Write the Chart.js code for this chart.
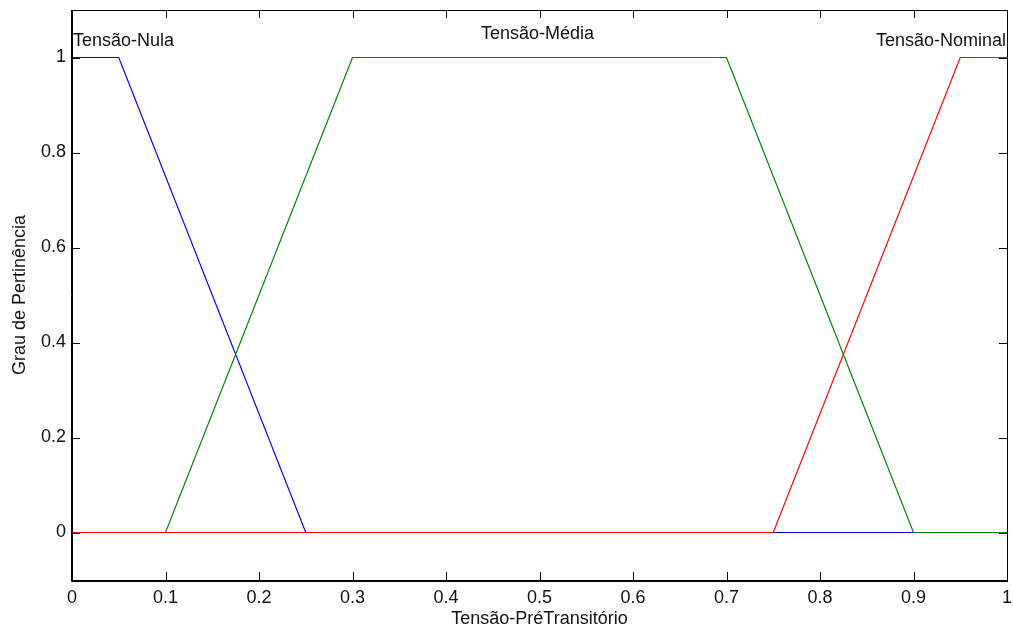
<!DOCTYPE html>
<html>
<head>
<meta charset="utf-8">
<script src="https://cdn.jsdelivr.net/npm/chart.js@4.4.1/dist/chart.umd.min.js"></script>
<style>
  html, body { margin: 0; padding: 0; background: #fff; }
  #wrap { width: 1013px; height: 630px; }
</style>
</head>
<body>
<div id="wrap"><canvas id="mfChart" width="1013" height="630"></canvas></div>
<script>
// funções de pertinência (pontos de quebra)
const xNula = [0, 0.05, 0.25, 1];
const yNula = [1, 1, 0, 0];
const xMedia = [0, 0.1, 0.3, 0.7, 0.9, 1];
const yMedia = [0, 0, 1, 1, 0, 0];
const xNominal = [0, 0.75, 0.95, 1];
const yNominal = [0, 0, 1, 1];

const mfNames = ['Tensão-Nula', 'Tensão-Média', 'Tensão-Nominal'];
const mfLabelX = [0, 0.5, 1];

const xTicks = [0, 0.1, 0.2, 0.3, 0.4, 0.5, 0.6, 0.7, 0.8, 0.9, 1];
const yTicks = [0, 0.2, 0.4, 0.6, 0.8, 1];

const font = 'Liberation Sans, Arial, Helvetica, sans-serif';
const fontSize = 18;
const textColor = '#111';

function pontos(xs, ys) {
  return xs.map((x, i) => ({ x: x, y: ys[i] }));
}

// moldura com marcas para dentro (estilo matlab) + nomes das funções
const molduraPlugin = {
  id: 'moldura',
  afterDraw(chart) {
    const ctx = chart.ctx;
    const a = chart.chartArea;
    const sx = chart.scales.x;
    const sy = chart.scales.y;
    const tick = 8;

    ctx.save();
    ctx.strokeStyle = '#000';
    ctx.lineWidth = 1;
    ctx.beginPath();
    xTicks.forEach(v => {
      const px = Math.round(sx.getPixelForValue(v)) + 0.5;
      ctx.moveTo(px, a.bottom); ctx.lineTo(px, a.bottom - tick);
      ctx.moveTo(px, a.top); ctx.lineTo(px, a.top + tick);
    });
    yTicks.forEach(v => {
      const py = Math.round(sy.getPixelForValue(v)) + 0.5;
      ctx.moveTo(a.left, py); ctx.lineTo(a.left + tick, py);
      ctx.moveTo(a.right, py); ctx.lineTo(a.right - tick, py);
    });
    ctx.stroke();

    ctx.strokeRect(Math.round(a.left) + 0.5, Math.round(a.top) + 0.5,
      Math.round(a.right - a.left), Math.round(a.bottom - a.top));
    // eixos esquerdo e inferior um pouco mais grossos
    ctx.beginPath();
    ctx.moveTo(Math.round(a.left) - 0.5, Math.round(a.top));
    ctx.lineTo(Math.round(a.left) - 0.5, Math.round(a.bottom) + 1.5);
    ctx.lineTo(Math.round(a.right) + 1, Math.round(a.bottom) + 1.5);
    ctx.stroke();

    ctx.fillStyle = textColor;
    ctx.font = fontSize + 'px ' + font;
    ctx.textBaseline = 'alphabetic';
    const topo = sy.getPixelForValue(1);
    mfNames.forEach((nome, i) => {
      const px = sx.getPixelForValue(mfLabelX[i]);
      if (i === 0) {
        ctx.textAlign = 'left';
        ctx.fillText(nome, px + 1, topo - 12);
      } else if (i === mfNames.length - 1) {
        ctx.textAlign = 'right';
        ctx.fillText(nome, px - 1, topo - 12);
      } else {
        ctx.textAlign = 'center';
        ctx.fillText(nome, px - 2, topo - 19);
      }
    });
    ctx.restore();
  }
};

new Chart(document.getElementById('mfChart'), {
  type: 'line',
  data: {
    datasets: [
      { label: mfNames[0], data: pontos(xNula, yNula), borderColor: '#0000ff', order: 3 },
      { label: mfNames[1], data: pontos(xMedia, yMedia), borderColor: '#008000', order: 2 },
      { label: mfNames[2], data: pontos(xNominal, yNominal), borderColor: '#ff0000', order: 1 }
    ]
  },
  options: {
    responsive: false,
    animation: false,
    layout: { padding: { top: 10, right: 6, left: 0, bottom: 0 } },
    elements: {
      line: { borderWidth: 1.2, tension: 0 },
      point: { radius: 0 }
    },
    plugins: {
      legend: { display: false },
      tooltip: { enabled: false }
    },
    scales: {
      x: {
        type: 'linear',
        min: 0,
        max: 1,
        grid: { display: false, tickLength: 0 },
        border: { display: false },
        afterBuildTicks: scale => { scale.ticks = xTicks.map(v => ({ value: v })); },
        afterFit: scale => {
          scale.height = 50;
          scale.paddingLeft = 0;
          scale.paddingRight = 0;
        },
        ticks: {
          color: textColor,
          padding: 7,
          maxRotation: 0,
          font: { family: font, size: fontSize },
          callback: v => String(v)
        },
        title: {
          display: true,
          text: 'Tensão-PréTransitório',
          color: textColor,
          font: { family: font, size: fontSize },
          padding: { top: 0, bottom: 0 }
        }
      },
      y: {
        type: 'linear',
        min: -0.1,
        max: 1.1,
        grid: { display: false, tickLength: 0 },
        border: { display: false },
        afterBuildTicks: scale => { scale.ticks = yTicks.map(v => ({ value: v })); },
        afterFit: scale => {
          scale.width = 72;
          scale.paddingTop = 0;
          scale.paddingBottom = 0;
        },
        ticks: {
          color: textColor,
          padding: 6,
          font: { family: font, size: fontSize },
          callback: v => String(v)
        },
        title: {
          display: true,
          text: 'Grau de Pertinência',
          color: textColor,
          font: { family: font, size: fontSize },
          padding: { top: 9, bottom: 0 }
        }
      }
    }
  },
  plugins: [molduraPlugin]
});
</script>
</body>
</html>
